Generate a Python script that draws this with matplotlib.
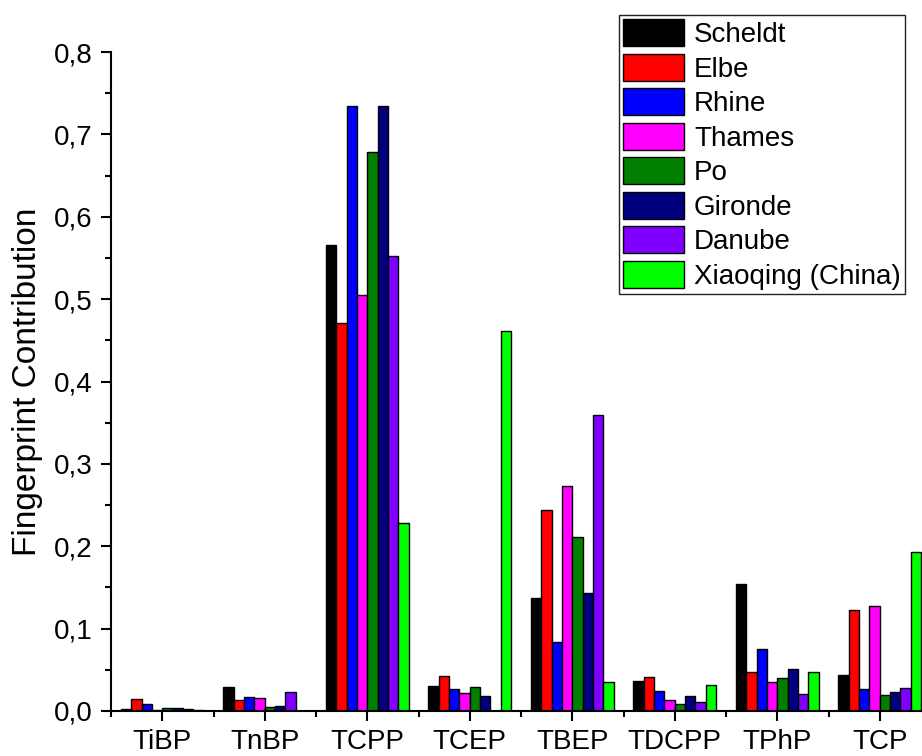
import numpy as np
import matplotlib
matplotlib.use("Agg")
import matplotlib.pyplot as plt
from matplotlib.ticker import MultipleLocator, FuncFormatter

plt.rcParams["font.family"] = ["Liberation Sans", "DejaVu Sans"]

compounds = ["TiBP", "TnBP", "TCPP", "TCEP", "TBEP", "TDCPP", "TPhP", "TCP"]
rivers = ["Scheldt", "Elbe", "Rhine", "Thames", "Po", "Gironde", "Danube",
          "Xiaoqing (China)"]
colors = ["#000000", "#ff0000", "#0000ff", "#ff00ff", "#007f00", "#00007f",
          "#7f00ff", "#00ff00"]

# contribution of each compound, one list per river
scheldt = [0.0028, 0.0290, 0.566, 0.0308, 0.137, 0.0364, 0.154, 0.0437]
elbe = [0.0150, 0.0134, 0.471, 0.0425, 0.244, 0.0410, 0.0477, 0.1226]
rhine = [0.0089, 0.0174, 0.735, 0.0263, 0.084, 0.0247, 0.0748, 0.0263]
thames = [0.0015, 0.0162, 0.505, 0.0222, 0.273, 0.0134, 0.0352, 0.1278]
po = [0.0040, 0.0049, 0.679, 0.0295, 0.2115, 0.0081, 0.0396, 0.0194]
gironde = [0.0032, 0.0065, 0.735, 0.0182, 0.1436, 0.0180, 0.0514, 0.0227]
danube = [0.0028, 0.0235, 0.552, 0.0005, 0.359, 0.0113, 0.0206, 0.0275]
xiaoqing = [0.0008, 0.0005, 0.2285, 0.461, 0.0352, 0.0316, 0.0470, 0.193]

series = [scheldt, elbe, rhine, thames, po, gironde, danube, xiaoqing]

fig = plt.figure(figsize=(9.22, 7.56), dpi=100)
ax = fig.add_axes([111 / 922, 1 - 711 / 756, 820 / 922, 659 / 756])

x = np.arange(len(compounds))
n = len(series)
w = 0.101
for i, (vals, name, c) in enumerate(zip(series, rivers, colors)):
    offs = (i - (n - 1) / 2) * w
    ax.bar(x + offs, vals, width=w, color=c, edgecolor="black",
           linewidth=1.0, label=name)

ax.set_xlim(-0.5, len(compounds) - 0.5)
ax.set_ylim(0, 0.8)
ax.set_xticks(x)
ax.set_xticklabels(compounds)
ax.xaxis.set_minor_locator(MultipleLocator(1, offset=0.5))
ax.yaxis.set_major_locator(MultipleLocator(0.1))
ax.yaxis.set_minor_locator(MultipleLocator(0.05))
ax.yaxis.set_major_formatter(FuncFormatter(lambda v, p: f"{v:.1f}".replace(".", ",")))

for side in ["top", "right"]:
    ax.spines[side].set_visible(False)
for side in ["left", "bottom"]:
    ax.spines[side].set_linewidth(1.5)

ax.tick_params(which="major", direction="out", length=7, width=1.5,
               labelsize=20, pad=6)
ax.tick_params(which="minor", direction="out", length=4, width=1.5)
ax.set_ylabel("Fingerprint Contribution", fontsize=24, labelpad=8)

leg = ax.legend(loc="upper left", bbox_to_anchor=(619 / 922, 1 - 15 / 756),
                bbox_transform=fig.transFigure, borderaxespad=0,
                fontsize=20, frameon=True, fancybox=False, framealpha=1,
                handlelength=2.2, handleheight=1.12, handletextpad=0.35,
                labelspacing=0.2, borderpad=0.15)
leg.get_frame().set_edgecolor("#222222")
leg.get_frame().set_linewidth(1.0)

fig.savefig("out.png", dpi=100)
